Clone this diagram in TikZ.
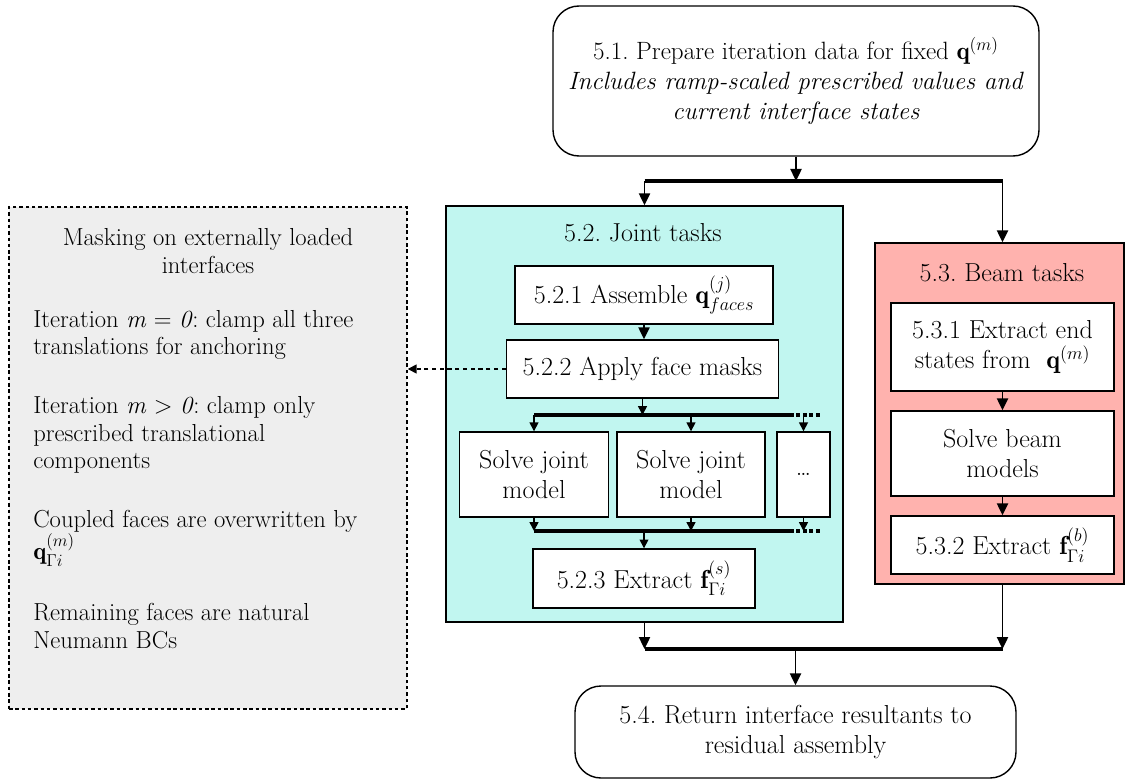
\RequirePackage{fix-cm}
\documentclass[tikz,border=0pt]{standalone}
\usepackage{amsmath}
\usepackage{fontspec}
\usetikzlibrary{arrows.meta}
\definecolor{jointfill}{RGB}{193,246,240}
\definecolor{beamfill}{RGB}{255,178,174}
\definecolor{maskfill}{RGB}{238,238,238}
\tikzset{
	boxfont/.style={font=\fontsize{18.5}{21.3}\selectfont},
	topfont/.style={font=\fontsize{17.8}{21.3}\selectfont},
	notefont/.style={font=\fontsize{17.5}{19.5}\selectfont},
	task/.style={draw, fill=white, line width=1pt, boxfont, align=center, inner sep=2pt},
	endbox/.style={task, rounded corners=0.65cm},
	group/.style={draw, line width=1pt},
	flow/.style={line width=1.2pt, -{Triangle[length=3mm,width=2.8mm]}},
	subflow/.style={line width=1.1pt, -{Triangle[length=2.2mm,width=2.2mm]}},
	bar/.style={line width=2.6pt},
	bardots/.style={line width=2.6pt, dash pattern=on 2.6pt off 2pt},
	hint/.style={line width=1.1pt, dash pattern=on 3pt off 2.5pt, -{Triangle[length=2.2mm,width=2.2mm]}},
}

\begin{document}
\frenchspacing
\begin{tikzpicture}
		\useasboundingbox (0,0) rectangle (28.15,19.5);
		
		%%%%% START %%%%%
		
		\node[endbox, topfont, minimum width=12.15cm, minimum height=3.75cm] (prep) at (19.9,17.475) {5.1. Prepare iteration data for fixed $\mathbf{q}^{(m)}$\\ \textit{Includes ramp-scaled prescribed values and}\\ \textit{current interface states}};
		
		% masking note
		\node[draw, fill=maskfill, line width=1pt, dash pattern=on 2.5pt off 2pt, minimum width=9.95cm, minimum height=12.55cm] (maskinfo) at (5.2,8.05) {};
		\node[notefont, align=center] (masktitle) at (5.2,13.225) {Masking on externally loaded\\interfaces};
		\node[notefont, align=left, anchor=west, inner sep=0pt] (maskA) at (0.825,11.125) {Iteration \textit{m} = \textit{0}: clamp all three\\translations for anchoring};
		\node[notefont, align=left, anchor=west, inner sep=0pt] (maskB) at (0.825,8.625) {Iteration \textit{m} $>$ \textit{0}: clamp only\\prescribed translational\\components};
		\node[notefont, align=left, anchor=west, inner sep=0pt] (maskC) at (0.825,6.05) {Coupled faces are overwritten by\\$\mathbf{q}^{(m)}_{\Gamma i}$};
		\node[notefont, align=left, anchor=west, inner sep=0pt] (maskD) at (0.825,3.85) {Remaining faces are natural\\Neumann BCs};
		
		% joint tasks
		\node[group, fill=jointfill, minimum width=9.925cm, minimum height=10.4cm] (joint) at (16.1125,9.15) {};
		\node[boxfont] (jointtitle) at (16.075,13.675) {5.2. Joint tasks};
		\node[task, minimum width=6.45cm, minimum height=1.45cm] (assemble) at (16.1,12.125) {5.2.1 Assemble $\mathbf{q}^{(j)}_{faces}$};
		\node[task, minimum width=6.8cm, minimum height=1.45cm] (masks) at (16.0625,10.275) {5.2.2 Apply face masks};
		\node[task, minimum width=3.725cm, minimum height=2.125cm] (solveA) at (13.35,7.6375) {Solve joint\\model};
		\node[task, minimum width=3.7cm, minimum height=2.125cm] (solveB) at (17.275,7.6375) {Solve joint\\model};
		\node[task, minimum width=1.325cm, minimum height=2.125cm] (more) at (20.0875,7.6375) {\dots};
		\node[task, minimum width=5.55cm, minimum height=1.475cm] (extractS) at (16.1,5.0375) {5.2.3 Extract $\mathbf{f}^{(s)}_{\Gamma i}$};
		
		% beam tasks
		\node[group, fill=beamfill, minimum width=6.225cm, minimum height=8.525cm] (beam) at (24.9875,9.1625) {};
		\node[boxfont] (beamtitle) at (25.05,12.675) {5.3. Beam tasks};
		\node[task, minimum width=5.575cm, minimum height=2.2cm] (endstates) at (25.0625,10.825) {5.3.1 Extract end\\states from~ $\mathbf{q}^{(m)}$};
		\node[task, minimum width=5.575cm, minimum height=2.125cm] (solvebeam) at (25.0625,8.1625) {Solve beam\\models};
		\node[task, minimum width=5.575cm, minimum height=1.45cm] (extractB) at (25.0625,5.875) {5.3.2 Extract $\mathbf{f}^{(b)}_{\Gamma i}$};
		
		\node[endbox, minimum width=11.025cm, minimum height=2.3cm] (ret) at (19.8875,1.2) {5.4. Return interface resultants to\\residual assembly};
		
		% split into joint and beam branches
		\coordinate (splitL) at (16.1125,14.975);
		\coordinate (splitR) at (25.0625,14.975);
		\draw[flow] (prep.south) -- (prep.south |- splitL);
		\draw[bar] (splitL) -- (splitR);
		\draw[flow] (splitL) -- (joint.north);
		\draw[flow] (splitR) -- (splitR |- beam.north);
		
		\draw[flow] (assemble.south) -- (assemble.south |- masks.north);
		\draw[hint] (masks.west) -- (maskinfo.east |- masks.west);
		
		% fan out to joint models
		\coordinate (fanL) at (13.35,9.125);
		\coordinate (fanR) at (19.75,9.125);
		\coordinate (fanE) at (20.55,9.125);
		\draw[subflow] (masks.south) -- (masks.south |- fanL);
		\draw[bar] (fanL) -- (fanR);
		\draw[bardots] (fanR) -- (fanE);
		\draw[subflow] (fanL) -- (solveA.north);
		\draw[subflow] (solveB.north |- fanL) -- (solveB.north);
		\draw[subflow] (more.north |- fanL) -- (more.north);
		
		% gather joint models
		\coordinate (joinL) at (13.35,6.225);
		\coordinate (joinR) at (19.75,6.225);
		\coordinate (joinE) at (20.55,6.225);
		\draw[subflow] (solveA.south) -- (joinL);
		\draw[subflow] (solveB.south) -- (solveB.south |- joinL);
		\draw[subflow] (more.south) -- (more.south |- joinL);
		\draw[bar] (joinL) -- (joinR);
		\draw[bardots] (joinR) -- (joinE);
		\draw[subflow] (extractS.north |- joinL) -- (extractS.north);
		
		\draw[flow] (endstates) -- (solvebeam);
		\draw[flow] (solvebeam) -- (extractB);
		
		% merge
		\coordinate (mergeL) at (16.1125,3.275);
		\coordinate (mergeR) at (25.0625,3.275);
		\draw[flow] (joint.south) -- (mergeL);
		\draw[flow] (extractB.south |- beam.south) -- (mergeR);
		\draw[bar] (mergeL) -- (mergeR);
		\draw[flow] (ret.north |- mergeL) -- (ret.north);
		
		%%%%% END %%%%%
\end{tikzpicture}
\end{document}
